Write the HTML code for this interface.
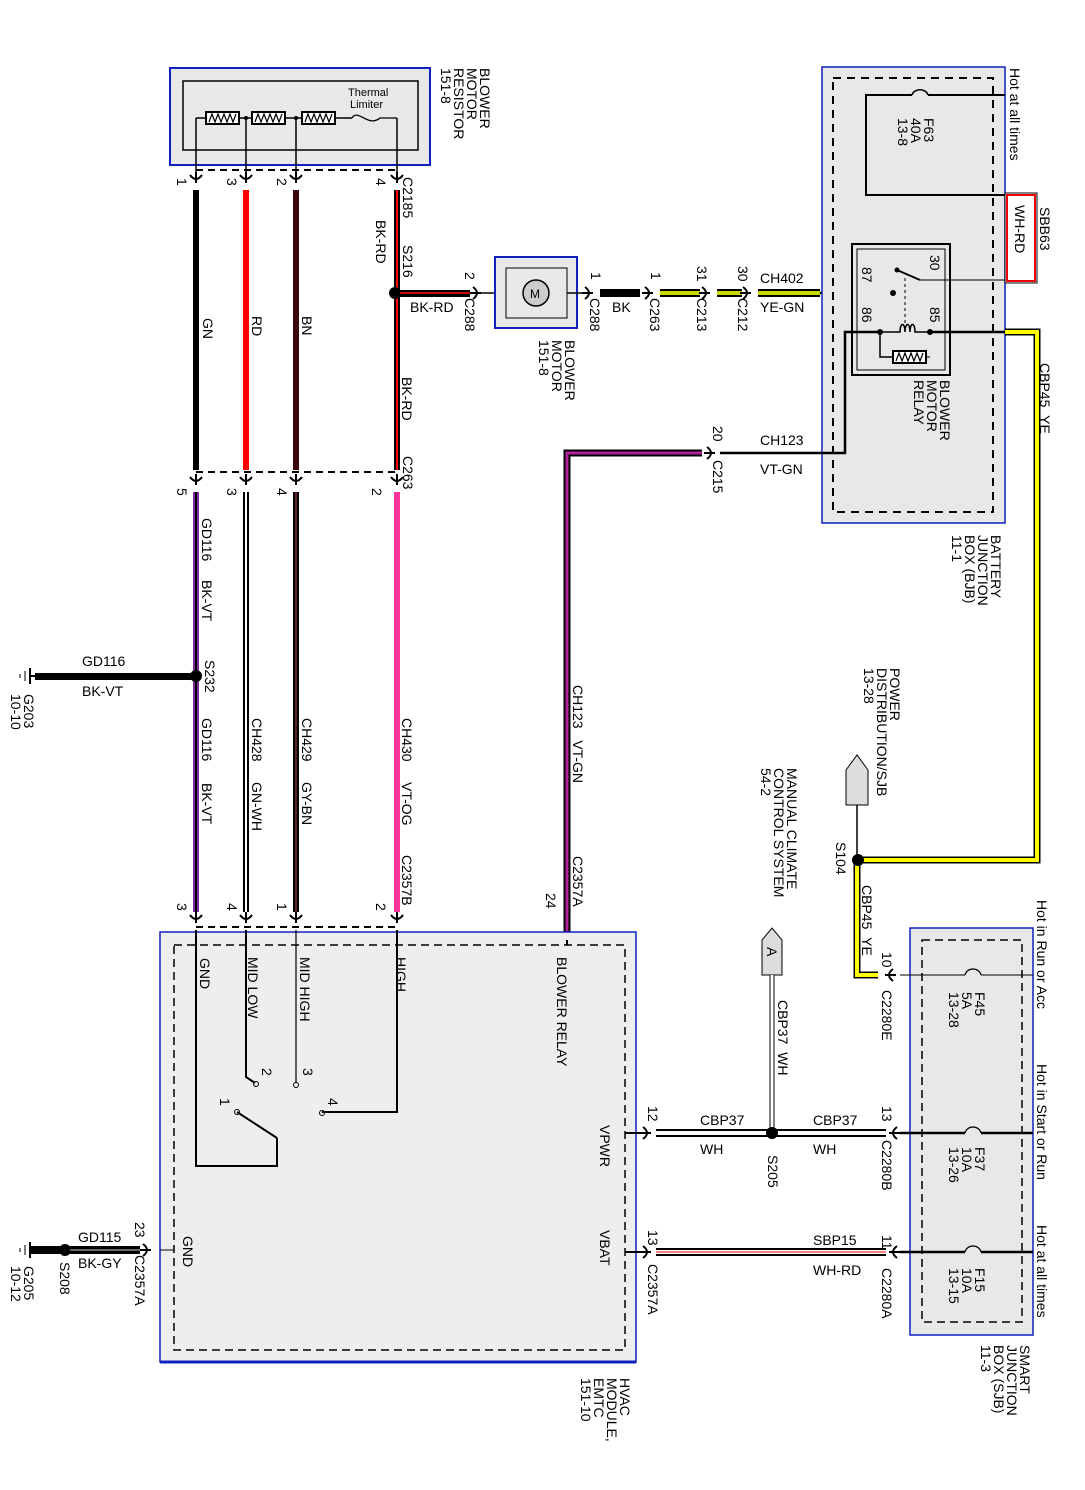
<!DOCTYPE html>
<html><head><meta charset="utf-8"><style>
html,body{margin:0;padding:0;background:#fff}
svg{display:block}
text{font-family:"Liberation Sans",sans-serif;font-size:14px;fill:#000}
.s{font-size:11px}
</style></head><body>
<svg width="1085" height="1490" viewBox="0 0 1085 1490" xmlns="http://www.w3.org/2000/svg">
<defs>
<g id="cn"><path d="M-6,-5 Q0,3 6,-5" fill="none" stroke="#000" stroke-width="2"/><line x1="0" y1="-8" x2="0" y2="3" stroke="#000" stroke-width="2"/></g>
<g id="cnh"><path d="M5,-6 Q-3,0 5,6" fill="none" stroke="#000" stroke-width="2"/><line x1="-3" y1="0" x2="8" y2="0" stroke="#000" stroke-width="2"/></g>
<g id="cnr"><path d="M-5,-6 Q3,0 -5,6" fill="none" stroke="#000" stroke-width="2"/><line x1="3" y1="0" x2="-8" y2="0" stroke="#000" stroke-width="2"/></g>
<g id="res"><rect x="0" y="-6" width="33" height="12" fill="#fff" stroke="#000" stroke-width="2"/><path d="M3,4 L6,-4 L9,4 L12,-4 L15,4 L18,-4 L21,4 L24,-4 L27,4 L30,-4" fill="none" stroke="#000" stroke-width="1.2"/></g>
</defs>

<rect x="170" y="68" width="260" height="97" fill="#e8e8e8" stroke="#1020c0" stroke-width="2"/>
<rect x="183" y="81" width="235" height="69" fill="none" stroke="#000" stroke-width="1.5"/>
<line x1="196" y1="118" x2="205" y2="118" stroke="#000" stroke-width="1.5"/>
<use href="#res" x="206" y="118"/><line x1="239" y1="118" x2="252" y2="118" stroke="#000" stroke-width="1.5"/>
<use href="#res" x="252" y="118"/><line x1="285" y1="118" x2="302" y2="118" stroke="#000" stroke-width="1.5"/>
<use href="#res" x="302" y="118"/><line x1="335" y1="118" x2="352" y2="118" stroke="#000" stroke-width="1.5"/>
<path d="M352,118 C358,108 368,128 380,118 L397,118" fill="none" stroke="#000" stroke-width="1.3"/>
<text x="348" y="96" class="s">Thermal</text><text x="350" y="108" class="s">Limiter</text>
<g stroke="#000" stroke-width="1.5"><line x1="196" y1="118" x2="196" y2="178"/><line x1="246" y1="118" x2="246" y2="178"/><line x1="296" y1="118" x2="296" y2="178"/><line x1="397" y1="118" x2="397" y2="178"/></g>
<circle cx="246" cy="118" r="2"/><circle cx="296" cy="118" r="2"/>
<line x1="196" y1="170" x2="397" y2="170" stroke="#000" stroke-width="2" stroke-dasharray="7,5"/>
<use href="#cn" x="196" y="180"/><use href="#cn" x="246" y="180"/><use href="#cn" x="296" y="180"/><use href="#cn" x="397" y="180"/>

<rect x="193" y="190" width="6" height="280" fill="#000"/>
<rect x="243" y="190" width="6" height="280" fill="#f00"/>
<rect x="293" y="190" width="6" height="280" fill="#3a0808"/>
<rect x="394" y="190" width="6" height="280" fill="#000"/><rect x="396" y="190" width="2" height="280" fill="#f00"/>
<line x1="196" y1="472" x2="397" y2="472" stroke="#000" stroke-width="2" stroke-dasharray="7,5"/>
<use href="#cn" x="196" y="482"/><use href="#cn" x="246" y="482"/><use href="#cn" x="296" y="482"/><use href="#cn" x="397" y="482"/>
<rect x="193" y="492" width="6" height="420" fill="#7a2a9a"/><rect x="195" y="492" width="2" height="420" fill="#000"/>
<rect x="243" y="492" width="6" height="420" fill="#000"/><rect x="245" y="492" width="2" height="420" fill="#fff"/>
<rect x="293" y="492" width="6" height="420" fill="#000"/><rect x="295" y="492" width="2" height="420" fill="#5a2020"/>
<rect x="394" y="492" width="6" height="420" fill="#ff3399"/>
<line x1="196" y1="927" x2="397" y2="927" stroke="#000" stroke-width="2" stroke-dasharray="7,5"/>
<use href="#cn" x="196" y="920"/><use href="#cn" x="246" y="920"/><use href="#cn" x="296" y="920"/><use href="#cn" x="397" y="920"/>

<rect x="35" y="673" width="160" height="7" fill="#000"/><circle cx="196" cy="676" r="6"/>
<line x1="30" y1="668" x2="30" y2="684" stroke="#000" stroke-width="2"/><line x1="25" y1="671" x2="25" y2="681" stroke="#000"/><line x1="20" y1="674" x2="20" y2="678" stroke="#000"/>
<line x1="30" y1="676" x2="36" y2="676" stroke="#000" stroke-width="2"/>
<text x="82" y="666">GD116</text><text x="82" y="696">BK-VT</text>

<circle cx="395" cy="293" r="6"/>
<rect x="400" y="290" width="70" height="7" fill="#000"/><rect x="400" y="292" width="70" height="2" fill="#c00"/>
<use href="#cnr" x="478" y="293"/><line x1="478" y1="293" x2="505" y2="293" stroke="#000" stroke-width="1.5"/>
<rect x="495" y="257" width="82" height="71" fill="#e8e8e8" stroke="#1020c0" stroke-width="2"/>
<rect x="506" y="268" width="61" height="50" fill="none" stroke="#000" stroke-width="1"/>
<circle cx="536" cy="293" r="13" fill="#ccc" stroke="#000" stroke-width="1.5"/><text x="530" y="298" style="font-size:12px">M</text>
<line x1="567" y1="293" x2="590" y2="293" stroke="#000" stroke-width="1.5"/><use href="#cnr" x="590" y="293"/>
<rect x="600" y="289" width="40" height="8" fill="#000"/><use href="#cnr" x="650" y="293"/>
<rect x="660" y="289" width="40" height="8" fill="#000"/><rect x="660" y="291" width="40" height="4" fill="#c8d800"/><use href="#cnr" x="707" y="293"/>
<rect x="717" y="289" width="25" height="8" fill="#000"/><rect x="717" y="291" width="25" height="4" fill="#c8d800"/><use href="#cnr" x="748" y="293"/>
<rect x="758" y="289" width="62" height="8" fill="#000"/><rect x="758" y="291" width="62" height="4" fill="#c8d800"/>
<line x1="820" y1="293" x2="893" y2="293" stroke="#000" stroke-width="2.5"/>

<rect x="822" y="67" width="183" height="456" fill="#e8e8e8" stroke="#1020c0" stroke-width="1.5"/>
<rect x="833" y="78" width="160" height="434" fill="none" stroke="#000" stroke-width="2" stroke-dasharray="8,6"/>
<path d="M1005,95 L928,95 M912,95 L866,95 L866,195 L1005,195" fill="none" stroke="#000" stroke-width="2"/>
<path d="M928,95 C926,88 914,88 912,95" fill="none" stroke="#000" stroke-width="1.5"/>
<rect x="1005" y="193" width="32" height="90" fill="#fff" stroke="#000"/><rect x="1007" y="195" width="28" height="86" fill="none" stroke="#e00" stroke-width="2"/>
<rect x="852" y="244" width="98" height="131" fill="none" stroke="#000" stroke-width="2"/><rect x="857" y="249" width="88" height="121" fill="none" stroke="#000"/>
<line x1="1005" y1="280" x2="920" y2="280" stroke="#000" stroke-width="1"/>
<line x1="920" y1="280" x2="897" y2="270" stroke="#000" stroke-width="1.8"/><circle cx="897" cy="270" r="2.5"/><circle cx="893" cy="293" r="3"/>
<line x1="905" y1="278" x2="905" y2="330" stroke="#000" stroke-dasharray="3,3"/>
<line x1="1005" y1="332" x2="930" y2="332" stroke="#000" stroke-width="2.5"/><circle cx="930" cy="332" r="3"/>
<path d="M930,332 L915,332 C915,322 910,322 910,332 C910,322 905,322 905,332 C905,322 900,322 900,332 L880,332" fill="none" stroke="#000" stroke-width="1.5"/><circle cx="880" cy="332" r="3"/>
<path d="M880,332 L880,357 L893,357" fill="none" stroke="#000" stroke-width="1.5"/><use href="#res" x="893" y="357"/><line x1="926" y1="357" x2="930" y2="357" stroke="#000"/>
<path d="M880,332 L845,332 L845,453 L720,453" fill="none" stroke="#000" stroke-width="2.5"/>
<path d="M1005,332 L1037,332 L1037,860 L860,860" fill="none" stroke="#000" stroke-width="7"/>
<path d="M1005,332 L1037,332 L1037,860 L860,860" fill="none" stroke="#ff0" stroke-width="4"/>

<use href="#cnr" x="712" y="453"/>
<path d="M702,453 L567,453 L567,935" fill="none" stroke="#000" stroke-width="7"/>
<path d="M702,453 L567,453 L567,935" fill="none" stroke="#b0209a" stroke-width="3"/>
<use href="#cn" x="567" y="940"/>

<path d="M846,805 L846,770 L857,755 L868,770 L868,805 Z" fill="#ddd" stroke="#000"/>
<line x1="857" y1="805" x2="857" y2="860" stroke="#000" stroke-width="1.5"/>
<path d="M857,860 L857,975 L878,975" fill="none" stroke="#000" stroke-width="7"/>
<path d="M857,860 L857,975 L878,975" fill="none" stroke="#ff0" stroke-width="4"/>
<circle cx="858" cy="860" r="6"/>
<use href="#cnh" x="888" y="975"/>

<path d="M762,975 L762,940 L772,928 L782,940 L782,975 Z" fill="#ddd" stroke="#000"/>
<path d="M772,975 L772,1133" stroke="#000" stroke-width="5"/><path d="M772,975 L772,1133" stroke="#fff" stroke-width="3"/>

<rect x="160" y="932" width="476" height="430" fill="#eee" stroke="#1020c0" stroke-width="1.5"/>
<line x1="160" y1="1362" x2="636" y2="1362" stroke="#1020c0" stroke-width="3"/>
<rect x="174" y="945" width="451" height="405" fill="none" stroke="#000" stroke-width="1.5" stroke-dasharray="8,5"/>
<g stroke="#000" fill="none">
<path d="M196,930 L196,1166 L277,1166 L277,1138" stroke-width="2"/>
<path d="M246,930 L246,1077 L255,1083" stroke-width="2"/>
<path d="M296,930 L296,1083" stroke-width="1.2"/>
<path d="M397,930 L397,1112 L322,1112" stroke-width="2"/>
<path d="M567,940 L567,945" stroke-width="2"/>
<line x1="237" y1="1112" x2="277" y2="1138" stroke-width="2"/>
</g>
<circle cx="256" cy="1084" r="2.5" fill="none" stroke="#000"/><circle cx="296" cy="1085" r="2.5" fill="none" stroke="#000"/>
<circle cx="322" cy="1113" r="2.5" fill="none" stroke="#000"/><circle cx="237" cy="1112" r="2.5" fill="none" stroke="#000"/>
<line x1="625" y1="1133" x2="640" y2="1133" stroke="#000" stroke-width="2"/>
<line x1="625" y1="1252" x2="640" y2="1252" stroke="#000" stroke-width="2"/>
<line x1="160" y1="1250" x2="174" y2="1250" stroke="#000"/>

<use href="#cnr" x="648" y="1133"/>
<rect x="656" y="1129" width="230" height="8" fill="#000"/><rect x="656" y="1131" width="230" height="4" fill="#fff"/>
<circle cx="772" cy="1133" r="6"/><use href="#cnh" x="892" y="1133"/>
<use href="#cnr" x="648" y="1252"/>
<rect x="656" y="1248" width="230" height="8" fill="#000"/><rect x="656" y="1250" width="230" height="4" fill="#fff"/><rect x="656" y="1251.5" width="230" height="1" fill="#e00"/>
<use href="#cnh" x="892" y="1252"/>

<rect x="910" y="928" width="123" height="407" fill="#e8e8e8" stroke="#1020c0" stroke-width="1.5"/>
<rect x="922" y="940" width="100" height="382" fill="none" stroke="#000" stroke-width="1.5" stroke-dasharray="8,5"/>
<g stroke="#000" fill="none">
<path d="M900,975 L965,975 M981,975 L1033,975" stroke-width="1"/><path d="M965,975 C967,967 979,967 981,975" stroke-width="1.3"/>
<path d="M900,1133 L965,1133 M981,1133 L1033,1133" stroke-width="2.5"/><path d="M965,1133 C967,1125 979,1125 981,1133" stroke-width="1.3"/>
<path d="M900,1252 L965,1252 M981,1252 L1033,1252" stroke-width="2.5"/><path d="M965,1252 C967,1244 979,1244 981,1252" stroke-width="1.3"/>
</g>

<line x1="30" y1="1242" x2="30" y2="1258" stroke="#000" stroke-width="2"/><line x1="25" y1="1245" x2="25" y2="1255" stroke="#000"/><line x1="20" y1="1248" x2="20" y2="1252" stroke="#000"/>
<rect x="30" y="1246" width="30" height="8" fill="#000"/><circle cx="65" cy="1250" r="6"/>
<rect x="70" y="1246" width="70" height="8" fill="#000"/><rect x="70" y="1249" width="70" height="2" fill="#666"/>
<use href="#cnr" x="148" y="1250"/>
<text x="78" y="1242">GD115</text><text x="78" y="1268">BK-GY</text>

<text x="410" y="312">BK-RD</text><text x="612" y="312">BK</text>
<text x="760" y="283">CH402</text><text x="760" y="312">YE-GN</text>
<text x="760" y="445">CH123</text><text x="760" y="474">VT-GN</text>
<text x="700" y="1125">CBP37</text><text x="700" y="1154">WH</text>
<text x="813" y="1125">CBP37</text><text x="813" y="1154">WH</text>
<text x="813" y="1245">SBP15</text><text x="813" y="1275">WH-RD</text>

<g>
<text transform="translate(480,68) rotate(90)">BLOWER</text>
<text transform="translate(467,68) rotate(90)">MOTOR</text>
<text transform="translate(454,68) rotate(90)">RESISTOR</text>
<text transform="translate(441,68) rotate(90)">151-8</text>
<text transform="translate(403,177) rotate(90)">C2185</text>
<text transform="translate(376,220) rotate(90)">BK-RD</text>
<text transform="translate(403,245) rotate(90)">S216</text>
<text transform="translate(177,178) rotate(90)">1</text><text transform="translate(227,178) rotate(90)">3</text>
<text transform="translate(277,178) rotate(90)">2</text><text transform="translate(376,178) rotate(90)">4</text>
<text transform="translate(203,318) rotate(90)">GN</text><text transform="translate(252,316) rotate(90)">RD</text>
<text transform="translate(302,316) rotate(90)">BN</text><text transform="translate(402,377) rotate(90)">BK-RD</text>
<text transform="translate(403,456) rotate(90)">C263</text>
<text transform="translate(177,488) rotate(90)">5</text><text transform="translate(227,488) rotate(90)">3</text>
<text transform="translate(277,488) rotate(90)">4</text><text transform="translate(372,488) rotate(90)">2</text>
<text transform="translate(202,518) rotate(90)">GD116</text><text transform="translate(202,580) rotate(90)">BK-VT</text>
<text transform="translate(205,660) rotate(90)">S232</text>
<text transform="translate(202,718) rotate(90)">GD116</text><text transform="translate(202,783) rotate(90)">BK-VT</text>
<text transform="translate(252,718) rotate(90)">CH428</text><text transform="translate(252,782) rotate(90)">GN-WH</text>
<text transform="translate(302,718) rotate(90)">CH429</text><text transform="translate(302,782) rotate(90)">GY-BN</text>
<text transform="translate(402,718) rotate(90)">CH430</text><text transform="translate(402,782) rotate(90)">VT-OG</text>
<text transform="translate(402,855) rotate(90)">C2357B</text>
<text transform="translate(177,903) rotate(90)">3</text><text transform="translate(227,903) rotate(90)">4</text>
<text transform="translate(277,903) rotate(90)">1</text><text transform="translate(376,903) rotate(90)">2</text>
<text transform="translate(24,694) rotate(90)">G203</text><text transform="translate(11,694) rotate(90)">10-10</text>
<text transform="translate(465,272) rotate(90)">2</text><text transform="translate(465,298) rotate(90)">C288</text>
<text transform="translate(591,272) rotate(90)">1</text><text transform="translate(590,298) rotate(90)">C288</text>
<text transform="translate(651,272) rotate(90)">1</text><text transform="translate(650,298) rotate(90)">C263</text>
<text transform="translate(697,266) rotate(90)">31</text><text transform="translate(697,298) rotate(90)">C213</text>
<text transform="translate(738,266) rotate(90)">30</text><text transform="translate(738,298) rotate(90)">C212</text>
<text transform="translate(565,340) rotate(90)">BLOWER</text><text transform="translate(552,340) rotate(90)">MOTOR</text><text transform="translate(539,340) rotate(90)">151-8</text>
<text transform="translate(713,426) rotate(90)">20</text><text transform="translate(713,460) rotate(90)">C215</text>
<text transform="translate(991,535) rotate(90)">BATTERY</text><text transform="translate(978,535) rotate(90)">JUNCTION</text>
<text transform="translate(965,535) rotate(90)">BOX (BJB)</text><text transform="translate(952,535) rotate(90)">11-1</text>
<text transform="translate(1010,68) rotate(90)">Hot at all times</text>
<text transform="translate(924,118) rotate(90)">F63</text><text transform="translate(911,118) rotate(90)">40A</text><text transform="translate(898,118) rotate(90)">13-8</text>
<text transform="translate(1040,207) rotate(90)">SBB63</text><text transform="translate(1015,205) rotate(90)">WH-RD</text>
<text transform="translate(930,255) rotate(90)">30</text><text transform="translate(862,267) rotate(90)">87</text>
<text transform="translate(930,307) rotate(90)">85</text><text transform="translate(862,307) rotate(90)">86</text>
<text transform="translate(940,380) rotate(90)">BLOWER</text><text transform="translate(927,380) rotate(90)">MOTOR</text><text transform="translate(914,380) rotate(90)">RELAY</text>
<text transform="translate(1040,363) rotate(90)">CBP45&#160;&#160;YE</text>
<text transform="translate(890,668) rotate(90)">POWER</text><text transform="translate(877,668) rotate(90)">DISTRIBUTION/SJB</text><text transform="translate(864,668) rotate(90)">13-28</text>
<text transform="translate(836,842) rotate(90)">S104</text>
<text transform="translate(862,885) rotate(90)">CBP45&#160;&#160;YE</text>
<text transform="translate(882,952) rotate(90)">10</text><text transform="translate(882,990) rotate(90)">C2280E</text>
<text transform="translate(787,768) rotate(90)">MANUAL CLIMATE</text><text transform="translate(774,768) rotate(90)">CONTROL SYSTEM</text><text transform="translate(761,768) rotate(90)">54-2</text>
<text transform="translate(767,947) rotate(90)">A</text>
<text transform="translate(778,1000) rotate(90)">CBP37&#160;&#160;WH</text>
<text transform="translate(573,685) rotate(90)">CH123&#160;&#160;&#160;VT-GN</text>
<text transform="translate(573,856) rotate(90)">C2357A</text><text transform="translate(546,893) rotate(90)">24</text>
<text transform="translate(557,957) rotate(90)">BLOWER RELAY</text>
<text transform="translate(200,958) rotate(90)">GND</text><text transform="translate(248,957) rotate(90)">MID LOW</text>
<text transform="translate(300,957) rotate(90)">MID HIGH</text><text transform="translate(396,957) rotate(90)">HIGH</text>
<text transform="translate(262,1068) rotate(90)">2</text><text transform="translate(303,1068) rotate(90)">3</text>
<text transform="translate(220,1098) rotate(90)">1</text><text transform="translate(328,1098) rotate(90)">4</text>
<text transform="translate(600,1125) rotate(90)">VPWR</text><text transform="translate(600,1230) rotate(90)">VBAT</text>
<text transform="translate(183,1236) rotate(90)">GND</text>
<text transform="translate(648,1106) rotate(90)">12</text>
<text transform="translate(768,1155) rotate(90)">S205</text>
<text transform="translate(882,1106) rotate(90)">13</text><text transform="translate(882,1140) rotate(90)">C2280B</text>
<text transform="translate(648,1230) rotate(90)">13</text><text transform="translate(648,1264) rotate(90)">C2357A</text>
<text transform="translate(882,1235) rotate(90)">11</text><text transform="translate(882,1268) rotate(90)">C2280A</text>
<text transform="translate(1037,900) rotate(90)">Hot in Run or Acc</text>
<text transform="translate(1037,1064) rotate(90)">Hot in Start or Run</text>
<text transform="translate(1037,1225) rotate(90)">Hot at all times</text>
<text transform="translate(975,992) rotate(90)">F45</text><text transform="translate(962,992) rotate(90)">5A</text><text transform="translate(949,992) rotate(90)">13-28</text>
<text transform="translate(975,1147) rotate(90)">F37</text><text transform="translate(962,1147) rotate(90)">10A</text><text transform="translate(949,1147) rotate(90)">13-26</text>
<text transform="translate(975,1268) rotate(90)">F15</text><text transform="translate(962,1268) rotate(90)">10A</text><text transform="translate(949,1268) rotate(90)">13-15</text>
<text transform="translate(1020,1345) rotate(90)">SMART</text><text transform="translate(1007,1345) rotate(90)">JUNCTION</text>
<text transform="translate(994,1345) rotate(90)">BOX (SJB)</text><text transform="translate(981,1345) rotate(90)">11-3</text>
<text transform="translate(620,1378) rotate(90)">HVAC</text><text transform="translate(607,1378) rotate(90)">MODULE,</text>
<text transform="translate(594,1378) rotate(90)">EMTC</text><text transform="translate(581,1378) rotate(90)">151-10</text>
<text transform="translate(135,1222) rotate(90)">23</text><text transform="translate(135,1255) rotate(90)">C2357A</text>
<text transform="translate(60,1262) rotate(90)">S208</text>
<text transform="translate(24,1266) rotate(90)">G205</text><text transform="translate(11,1266) rotate(90)">10-12</text>
</g>
</svg>
</body></html>
